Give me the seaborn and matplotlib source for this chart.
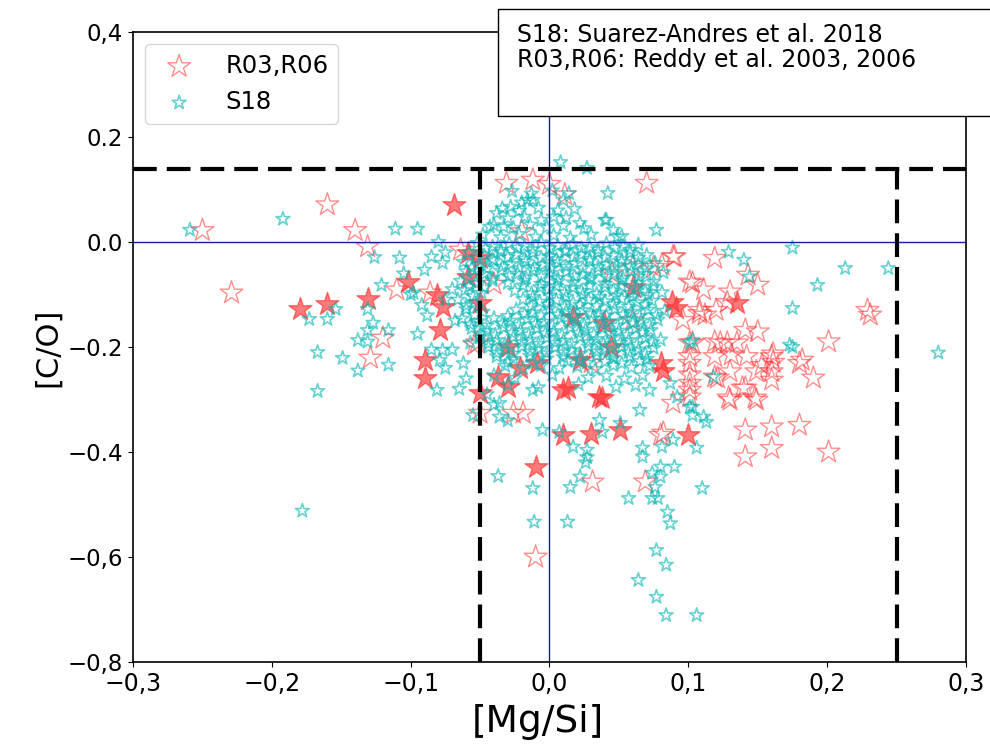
import matplotlib
matplotlib.use("Agg")
import matplotlib.pyplot as plt
from matplotlib.patches import Rectangle
import seaborn as sns
import pandas as pd

# ---------------- data ----------------
# R03,R06 (Reddy et al. 2003, 2006) - open symbols
r_open = [
    (-0.250, 0.022), (-0.229, -0.097), (-0.160, 0.071), (-0.140, 0.022), (-0.131, -0.009),
    (-0.120, -0.183), (-0.129, -0.221), (-0.110, -0.091), (-0.086, -0.097), (-0.064, -0.015),
    (-0.052, -0.192), (-0.054, -0.196), (-0.050, -0.326), (-0.019, -0.326), (-0.026, -0.326),
    (-0.010, -0.600), (0.031, -0.457), (0.069, -0.457),
    (-0.031, 0.112), (-0.012, 0.118), (0.000, 0.110), (0.011, 0.090), (0.070, 0.112),
    (0.089, -0.028), (0.075, -0.048), (0.060, -0.048), (0.103, -0.078), (0.108, -0.130),
    (0.096, -0.149), (0.103, -0.192), (0.101, -0.231), (0.101, -0.269), (0.101, -0.295),
    (0.089, -0.307), (0.082, -0.364), (0.080, -0.368),
    (0.090, -0.028), (0.081, -0.044), (0.119, -0.031), (0.101, -0.076), (0.111, -0.091),
    (0.130, -0.095), (0.150, -0.082), (0.108, -0.136), (0.120, -0.130), (0.112, -0.139),
    (0.141, -0.168), (0.150, -0.171), (0.119, -0.190), (0.128, -0.192), (0.135, -0.192),
    (0.101, -0.192), (0.101, -0.218), (0.119, -0.218), (0.131, -0.215), (0.142, -0.218),
    (0.160, -0.218), (0.180, -0.231), (0.190, -0.259), (0.160, -0.247), (0.149, -0.247),
    (0.119, -0.257), (0.130, -0.247), (0.101, -0.253), (0.101, -0.282), (0.130, -0.301),
    (0.149, -0.301), (0.141, -0.278), (0.201, -0.190), (0.229, -0.130), (0.231, -0.139),
    (0.141, -0.358), (0.160, -0.352), (0.180, -0.349), (0.160, -0.393), (0.141, -0.409),
    (0.201, -0.400), (0.182, -0.225), (0.129, -0.297), (0.148, -0.297), (0.121, -0.259),
    (0.139, -0.278), (0.160, -0.263), (0.161, -0.229), (0.153, -0.235), (0.161, -0.213),
    (0.123, -0.192), (0.143, -0.063), (0.128, -0.115),
    (0.045, -0.060), (0.060, -0.150), (-0.040, -0.080), (0.030, -0.230), (-0.020, 0.020),
]

# R03,R06 - filled symbols
r_filled = [
    (-0.180, -0.128), (-0.160, -0.118), (-0.131, -0.109), (-0.102, -0.076), (-0.090, -0.225),
    (-0.090, -0.259), (-0.069, 0.070), (-0.059, -0.021), (-0.050, -0.030), (-0.081, -0.101),
    (-0.077, -0.124), (-0.079, -0.168), (-0.050, -0.116), (-0.059, -0.067), (-0.050, -0.288),
    (-0.010, -0.429), (0.010, -0.368), (0.030, -0.365), (-0.030, -0.200), (-0.037, -0.257),
    (-0.030, -0.276), (-0.021, -0.240), (0.010, -0.282), (0.038, -0.297), (-0.009, -0.231),
    (0.017, -0.143), (0.039, -0.154), (0.088, -0.114), (0.091, -0.125), (0.080, -0.231),
    (0.082, -0.245), (0.100, -0.368), (0.060, -0.086), (0.044, -0.200), (0.022, -0.225),
    (0.013, -0.278), (0.036, -0.295), (0.135, -0.117), (0.051, -0.358),
]

# S18 (Suarez-Andres et al. 2018)
s18 = [
    # outliers left
    (-0.259, 0.023), (-0.192, 0.044), (-0.111, 0.025), (-0.095, 0.025), (-0.126, -0.029),
    (-0.121, -0.082), (-0.100, -0.100), (-0.173, -0.147), (-0.160, -0.147), (-0.131, -0.128),
    (-0.154, -0.128), (-0.127, -0.154), (-0.131, -0.168), (-0.116, -0.168), (-0.138, -0.187),
    (-0.131, -0.190), (-0.167, -0.210), (-0.149, -0.221), (-0.138, -0.245), (-0.116, -0.234),
    (-0.167, -0.284), (-0.178, -0.512),
    # outliers right / low
    (0.173, -0.196), (0.027, -0.396), (0.027, -0.410), (0.067, -0.392), (0.067, -0.409),
    (0.081, -0.390), (0.089, -0.377), (0.106, -0.392), (0.113, -0.343), (0.101, -0.314),
    (0.103, -0.330), (0.080, -0.428), (0.090, -0.428), (0.074, -0.440), (0.080, -0.447),
    (0.076, -0.467), (0.057, -0.488), (0.074, -0.488), (0.078, -0.488), (0.110, -0.469),
    (0.085, -0.514), (0.087, -0.536), (0.077, -0.587), (0.084, -0.615), (0.064, -0.644),
    (0.077, -0.676), (0.084, -0.711), (0.106, -0.711), (0.022, -0.447),
    (-0.011, -0.533), (0.013, -0.533), (-0.037, -0.446), (-0.012, -0.469), (0.026, -0.420),
    (0.007, -0.362), (0.038, -0.362), (0.015, -0.467),
    (0.077, 0.023), (0.175, -0.011), (0.213, -0.050), (0.244, -0.050), (0.193, -0.082),
    (0.175, -0.126), (0.129, -0.019), (0.140, -0.034), (0.144, -0.066), (0.103, -0.187),
    (0.175, -0.200), (0.280, -0.211), (0.041, 0.042), (0.049, 0.010), (0.042, 0.093),
    (0.040, 0.042), (0.008, 0.152), (0.027, 0.141),
    # left flank of the cluster
    (-0.085, -0.028), (-0.090, -0.053), (-0.077, -0.040), (-0.098, -0.097), (-0.077, -0.206),
    (-0.079, -0.225), (-0.081, -0.282), (-0.062, -0.231), (-0.057, -0.192), (-0.036, -0.333),
    (-0.036, -0.307), (-0.012, -0.282), (-0.005, -0.358), (0.017, -0.390), (0.036, -0.339),
    (0.051, -0.345), (0.065, -0.320), (0.072, -0.282), (0.087, -0.269), (0.092, -0.295),
    (0.111, -0.333), (0.103, -0.314), (0.118, -0.257), (0.101, -0.192),
    (-0.092, -0.120), (-0.088, -0.140), (-0.070, -0.090), (-0.075, -0.110), (-0.068, -0.150),
    (-0.095, -0.175), (-0.085, -0.205), (-0.070, -0.205), (-0.075, -0.240), (-0.060, -0.260),
    (-0.065, -0.280), (-0.045, -0.290), (-0.040, -0.310), (-0.055, -0.330), (-0.030, -0.340),
    (-0.105, -0.060), (-0.108, -0.030), (-0.080, 0.000), (-0.075, -0.020),
    # upper part of the cluster
    (-0.038, 0.055), (-0.028, 0.067), (-0.016, 0.080), (-0.012, 0.080), (0.010, 0.080),
    (0.003, 0.048), (-0.033, 0.029), (-0.043, 0.029), (0.022, 0.036), (0.046, 0.023),
    (-0.048, 0.014), (-0.035, 0.009), (-0.022, 0.015), (-0.010, 0.010), (0.003, 0.013),
    (0.015, 0.008), (0.030, 0.014), (0.052, 0.011),
    (-0.040, 0.032), (-0.026, 0.027), (-0.014, 0.033), (-0.002, 0.028), (0.010, 0.031),
    (0.025, 0.026),
    (-0.034, 0.064), (-0.022, 0.059), (-0.008, 0.065), (0.006, 0.060), (0.018, 0.063),
    (-0.027, 0.097), (-0.013, 0.092), (0.002, 0.098), (0.014, 0.093),
    (-0.030, 0.045), (-0.018, 0.048), (-0.006, 0.042), (0.012, 0.046), (-0.020, 0.075),
    # dense core
    (-0.052, -0.002), (-0.041, -0.009), (-0.029, -0.003), (-0.018, -0.008), (-0.006, -0.001),
    (0.006, -0.007), (0.017, -0.004), (0.029, -0.010), (0.041, -0.003), (0.053, -0.008),
    (0.064, -0.005),
    (-0.046, -0.012), (-0.035, -0.015), (-0.023, -0.011), (-0.012, -0.014), (0.000, -0.012),
    (0.012, -0.016), (0.023, -0.012), (0.035, -0.014), (0.047, -0.011), (0.058, -0.015),
    (-0.058, -0.020), (-0.047, -0.026), (-0.035, -0.019), (-0.024, -0.025), (-0.012, -0.021),
    (0.000, -0.027), (0.011, -0.018), (0.023, -0.024), (0.035, -0.020), (0.046, -0.026),
    (0.058, -0.021), (0.070, -0.025),
    (-0.053, -0.031), (-0.041, -0.033), (-0.030, -0.029), (-0.018, -0.032), (-0.006, -0.030),
    (0.005, -0.033), (0.017, -0.029), (0.029, -0.032), (0.040, -0.030), (0.052, -0.033),
    (0.064, -0.030),
    (-0.062, -0.038), (-0.051, -0.043), (-0.040, -0.036), (-0.028, -0.042), (-0.017, -0.037),
    (-0.005, -0.044), (0.006, -0.039), (0.018, -0.041), (0.029, -0.036), (0.041, -0.043),
    (0.052, -0.038), (0.064, -0.042), (0.076, -0.040),
    (-0.056, -0.049), (-0.045, -0.051), (-0.034, -0.047), (-0.022, -0.050), (-0.011, -0.048),
    (0.001, -0.051), (0.012, -0.047), (0.024, -0.050), (0.035, -0.048), (0.047, -0.051),
    (0.058, -0.047), (0.070, -0.050),
    (-0.060, -0.056), (-0.047, -0.061), (-0.035, -0.055), (-0.023, -0.060), (-0.012, -0.054),
    (0.000, -0.059), (0.012, -0.057), (0.024, -0.062), (0.035, -0.055), (0.047, -0.060),
    (0.059, -0.056), (0.070, -0.061), (0.082, -0.058),
    (-0.054, -0.067), (-0.041, -0.069), (-0.029, -0.065), (-0.017, -0.068), (-0.006, -0.066),
    (0.006, -0.069), (0.018, -0.065), (0.030, -0.068), (0.041, -0.066), (0.053, -0.069),
    (0.064, -0.066),
    (-0.064, -0.074), (-0.053, -0.079), (-0.041, -0.073), (-0.030, -0.078), (-0.018, -0.074),
    (-0.006, -0.080), (0.006, -0.075), (0.017, -0.077), (0.029, -0.072), (0.040, -0.079),
    (0.052, -0.074), (0.064, -0.078), (0.075, -0.076),
    (-0.058, -0.085), (-0.047, -0.087), (-0.019, -0.083), (-0.007, -0.086), (0.005, -0.084),
    (0.017, -0.087), (0.029, -0.083), (0.040, -0.086), (0.052, -0.084), (0.063, -0.087),
    (0.075, -0.085),
    (-0.061, -0.092), (-0.049, -0.097), (-0.025, -0.093), (-0.013, -0.098), (-0.001, -0.091),
    (0.011, -0.096), (0.023, -0.093), (0.034, -0.099), (0.046, -0.092), (0.058, -0.097),
    (0.069, -0.094), (0.081, -0.096),
    (-0.055, -0.103), (-0.012, -0.105), (0.000, -0.102), (0.012, -0.104), (0.024, -0.101),
    (0.036, -0.105), (0.048, -0.102), (0.060, -0.104), (0.071, -0.101),
    (-0.066, -0.110), (-0.054, -0.115), (-0.019, -0.109), (-0.007, -0.114), (0.005, -0.111),
    (0.017, -0.116), (0.028, -0.110), (0.040, -0.113), (0.052, -0.108), (0.063, -0.115),
    (0.074, -0.112),
    (-0.060, -0.121), (-0.013, -0.122), (-0.001, -0.119), (0.011, -0.123), (0.022, -0.120),
    (0.034, -0.122), (0.046, -0.119), (0.057, -0.123), (0.069, -0.120),
    (-0.060, -0.128), (-0.048, -0.133), (-0.024, -0.129), (-0.012, -0.134), (0.000, -0.127),
    (0.012, -0.132), (0.024, -0.130), (0.036, -0.135), (0.047, -0.128), (0.059, -0.133),
    (0.071, -0.129), (0.083, -0.131),
    (-0.054, -0.139), (-0.030, -0.141), (-0.018, -0.137), (-0.006, -0.140), (0.006, -0.138),
    (0.018, -0.141), (0.030, -0.137), (0.041, -0.140), (0.053, -0.138), (0.065, -0.141),
    (0.077, -0.139),
    (-0.063, -0.146), (-0.051, -0.151), (-0.040, -0.145), (-0.028, -0.150), (-0.016, -0.147),
    (-0.004, -0.152), (0.008, -0.145), (0.020, -0.149), (0.031, -0.146), (0.043, -0.151),
    (0.055, -0.147), (0.066, -0.150), (0.078, -0.148),
    (-0.057, -0.157), (-0.045, -0.159), (-0.034, -0.155), (-0.022, -0.158), (-0.010, -0.156),
    (0.002, -0.159), (0.014, -0.155), (0.025, -0.158), (0.037, -0.156), (0.049, -0.159),
    (0.060, -0.155), (0.072, -0.158),
    (-0.056, -0.164), (-0.045, -0.169), (-0.033, -0.163), (-0.021, -0.168), (-0.009, -0.165),
    (0.003, -0.170), (0.015, -0.163), (0.026, -0.167), (0.038, -0.164), (0.050, -0.169),
    (0.062, -0.165), (0.073, -0.168),
    (-0.050, -0.175), (-0.039, -0.177), (-0.027, -0.173), (-0.015, -0.176), (-0.003, -0.174),
    (0.009, -0.177), (0.021, -0.173), (0.032, -0.176), (0.044, -0.174), (0.056, -0.177),
    (0.067, -0.173),
    (-0.050, -0.182), (-0.038, -0.187), (-0.026, -0.181), (-0.014, -0.186), (-0.002, -0.183),
    (0.010, -0.188), (0.022, -0.181), (0.034, -0.185), (0.045, -0.182), (0.057, -0.187),
    (0.069, -0.183), (0.080, -0.186),
    (-0.044, -0.193), (-0.032, -0.195), (-0.020, -0.191), (-0.008, -0.194), (0.004, -0.192),
    (0.016, -0.195), (0.028, -0.191), (0.039, -0.194), (0.051, -0.192), (0.063, -0.195),
    (0.074, -0.191),
    (-0.044, -0.200), (-0.032, -0.205), (-0.020, -0.199), (-0.008, -0.204), (0.004, -0.201),
    (0.016, -0.206), (0.028, -0.199), (0.040, -0.203), (0.052, -0.200), (0.064, -0.205),
    (0.075, -0.202),
    (-0.038, -0.211), (-0.026, -0.213), (-0.014, -0.209), (-0.002, -0.212), (0.010, -0.210),
    (0.022, -0.213), (0.034, -0.209), (0.046, -0.212), (0.057, -0.210), (0.069, -0.213),
    (-0.038, -0.218), (-0.026, -0.223), (-0.014, -0.217), (-0.002, -0.222), (0.010, -0.219),
    (0.022, -0.224), (0.034, -0.217), (0.046, -0.221), (0.058, -0.218), (0.070, -0.223),
    (-0.030, -0.229), (-0.012, -0.231), (0.013, -0.227), (0.027, -0.230), (0.040, -0.228),
    (0.052, -0.231), (0.065, -0.227),
    (-0.032, -0.236), (-0.019, -0.241), (-0.006, -0.235), (0.007, -0.240), (0.020, -0.237),
    (0.033, -0.242), (0.046, -0.235), (0.059, -0.239), (0.072, -0.236),
    (-0.040, -0.254), (-0.025, -0.259), (0.002, -0.253), (0.028, -0.258), (0.041, -0.255),
    (0.054, -0.260), (0.067, -0.254),
    (-0.030, -0.272), (-0.008, -0.277), (0.021, -0.271), (0.048, -0.276), (0.062, -0.273),
]

# reference lines
co_limit = 0.14
mgsi_low = -0.05
mgsi_high = 0.25

x_ticks = [-0.3, -0.2, -0.1, 0.0, 0.1, 0.2, 0.3]
x_tick_labels = ["\u22120,3", "\u22120,2", "\u22120,1", "0,0", "0,1", "0,2", "0,3"]
y_ticks = [-0.8, -0.6, -0.4, -0.2, 0.0, 0.2, 0.4]
y_tick_labels = ["\u22120,8", "\u22120,6", "\u22120.4", "\u22120.2", "0.0", "0.2", "0,4"]

df_ro = pd.DataFrame(r_open, columns=["MgSi", "CO"])
df_rf = pd.DataFrame(r_filled, columns=["MgSi", "CO"])
df_s = pd.DataFrame(s18, columns=["MgSi", "CO"])

# ---------------- figure ----------------
fig = plt.figure(figsize=(9.9, 7.46), dpi=100)
ax = fig.add_axes([0.1343, 0.1126, 0.8415, 0.8445])

red = (1.0, 0.2, 0.2)
cyan = (0.0, 0.70, 0.70)

sns.scatterplot(data=df_ro, x="MgSi", y="CO", ax=ax, marker="*", s=300,
                facecolor="none", edgecolor=red, linewidth=1.0, alpha=0.55,
                label="R03,R06", zorder=2)
sns.scatterplot(data=df_rf, x="MgSi", y="CO", ax=ax, marker="*", s=300,
                facecolor=red, edgecolor=red, linewidth=1.0, alpha=0.65,
                zorder=2)
sns.scatterplot(data=df_s, x="MgSi", y="CO", ax=ax, marker="*", s=110,
                facecolor="none", edgecolor=cyan, linewidth=1.2, alpha=0.6,
                label="S18", zorder=3)

ax.axhline(0, color="#1a1aa8", lw=1.0, zorder=5)
ax.axvline(0, color="#1a1aa8", lw=1.0, zorder=5)
ax.axhline(co_limit, color="black", lw=3.0, dashes=(5.7, 2.4), zorder=6)
ax.plot([mgsi_low, mgsi_low], [-0.8, co_limit], color="black", lw=3.0,
        dashes=(5.7, 2.4), zorder=6)
ax.plot([mgsi_high, mgsi_high], [-0.8, co_limit], color="black", lw=3.0,
        dashes=(5.7, 2.4), zorder=6)

ax.set_xlim(-0.3, 0.3)
ax.set_ylim(-0.8, 0.4)
ax.set_xticks(x_ticks)
ax.set_xticklabels(x_tick_labels, fontsize=17)
ax.set_yticks(y_ticks)
ax.set_yticklabels(y_tick_labels, fontsize=16.5)
ax.set_xlabel("[Mg/Si]", fontsize=27)
ax.xaxis.set_label_coords(0.486, -0.066)
ax.set_ylabel("[C/O]", fontsize=22)
for sp in ax.spines.values():
    sp.set_linewidth(1.2)
    sp.set_color("black")

ax.legend(loc="upper left", fontsize=17.5, borderaxespad=0.5, handletextpad=0.9)

# annotation box
fig.add_artist(Rectangle((498 / 990, 1 - 116 / 746), (1000 - 498) / 990, 107 / 746,
                         transform=fig.transFigure, facecolor="white",
                         edgecolor="black", lw=1.0, zorder=10))
fig.text(517 / 990, 1 - 42 / 746, "S18: Suarez-Andres et al. 2018", fontsize=17,
         va="baseline", ha="left", zorder=11)
fig.text(517 / 990, 1 - 67 / 746, "R03,R06: Reddy et al. 2003, 2006", fontsize=17,
         va="baseline", ha="left", zorder=11)

fig.savefig("out.png", dpi=100)
